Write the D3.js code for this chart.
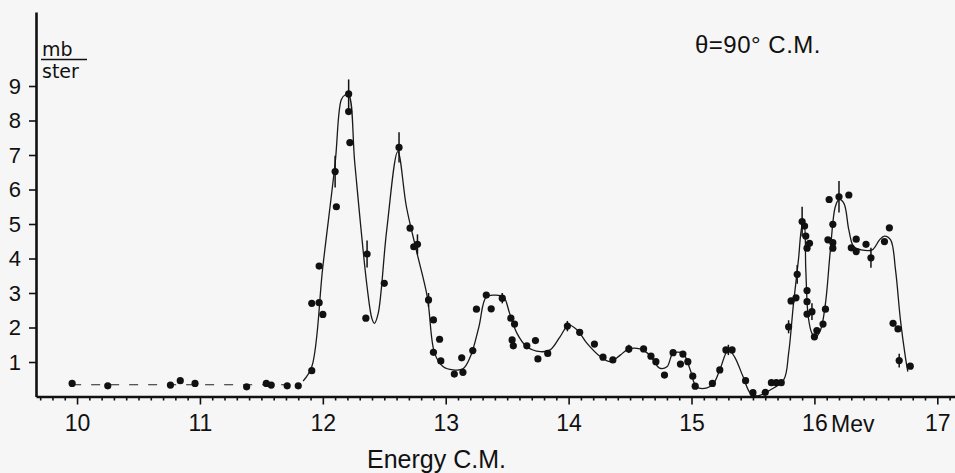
<!DOCTYPE html>
<meta charset="utf-8">
<style>
body { margin: 0; background: #f6f6f6; }
svg { display: block; background: #f6f6f6; }

.axis path.domain { stroke: #111; stroke-width: 2.6px; }
.axis line { stroke: #111; stroke-width: 1.6px; }
.axis text { font: 23px "Liberation Sans", sans-serif; fill: #111; }
.yaxis text { font-size: 22px; }

.fit { fill: none; stroke: #1a1a1a; stroke-width: 1.3px; }
.base { fill: none; stroke: #222; stroke-width: 1.2px; stroke-dasharray: 9,10; }
.dot { fill: #111; }
.err { stroke: #111; stroke-width: 1.5px; }
.lbl { font-family: "Liberation Sans", sans-serif; fill: #111; }
</style>
<body>

<script src="https://cdn.jsdelivr.net/npm/d3@7"></script>
<script>

// tick labels
var xTicks = [10, 11, 12, 13, 14, 15, 16, 17];
var yTicks = [1, 2, 3, 4, 5, 6, 7, 8, 9];

// measured points (energy C.M. in Mev, cross section in mb/ster)
var pointE = [9.96, 10.25, 10.76, 10.84, 10.96, 11.38, 11.54, 11.58, 11.71, 11.80,
  11.91, 11.91, 11.97, 12.00, 11.97, 12.11, 12.10, 12.21, 12.21, 12.22,
  12.36, 12.35, 12.50, 12.62, 12.71, 12.74, 12.77, 12.86, 12.90, 12.95,
  12.90, 12.96, 13.07, 13.14, 13.13, 13.22, 13.25, 13.33, 13.37, 13.46,
  13.53, 13.56, 13.54, 13.55, 13.66, 13.73, 13.75, 13.83, 13.99, 14.09,
  14.21, 14.28, 14.36, 14.49, 14.61, 14.67, 14.71, 14.78, 14.85, 14.93,
  14.91, 14.97, 15.01, 15.03, 15.17, 15.23, 15.28, 15.33, 15.44, 15.50,
  15.60, 15.65, 15.69, 15.73, 15.79, 15.81, 15.85, 15.86, 15.90, 15.92,
  15.93, 15.96, 15.94, 15.94, 15.94, 15.94, 15.98, 16.00, 16.02, 16.07,
  16.09, 16.11, 16.15, 16.15, 16.15, 16.12, 16.20, 16.28, 16.30, 16.34,
  16.34, 16.42, 16.46, 16.57, 16.61, 16.64, 16.68, 16.69, 16.78];
var pointSigma = [0.38, 0.31, 0.33, 0.46, 0.38, 0.28, 0.38, 0.33, 0.31, 0.31,
  0.75, 2.70, 2.72, 2.38, 3.78, 5.50, 6.52, 8.77, 8.26, 7.36,
  4.13, 2.27, 3.28, 7.22, 4.88, 4.34, 4.41, 2.80, 2.22, 1.66,
  1.28, 1.03, 0.65, 0.70, 1.12, 1.33, 2.53, 2.94, 2.54, 2.85,
  2.27, 2.10, 1.64, 1.47, 1.47, 1.62, 1.09, 1.25, 2.04, 1.86,
  1.52, 1.14, 1.06, 1.38, 1.38, 1.17, 1.01, 0.62, 1.27, 1.23,
  0.94, 1.01, 0.59, 0.30, 0.38, 0.77, 1.35, 1.35, 0.46, 0.11,
  0.12, 0.40, 0.40, 0.40, 2.02, 2.77, 2.86, 3.54, 5.07, 4.94,
  4.65, 4.44, 4.30, 3.07, 2.75, 2.39, 2.46, 1.73, 1.91, 2.10,
  2.53, 4.54, 4.46, 4.30, 4.99, 5.71, 5.79, 5.84, 4.31, 4.56,
  4.20, 4.41, 4.02, 4.49, 4.89, 2.12, 1.96, 1.04, 0.88];

// error bars
var errE     = [12.10, 12.21, 12.36, 12.62, 12.77, 12.86, 13.46, 13.99, 14.49, 15.30, 15.79, 15.86, 15.90, 15.98, 16.20, 16.46, 16.69];
var errSigma = [6.52, 8.77, 4.13, 7.22, 4.41, 2.80, 2.85, 2.04, 1.38, 1.35, 2.02, 3.54, 5.07, 2.46, 5.79, 4.02, 1.04];
var errHalf  = [0.46, 0.42, 0.39, 0.44, 0.29, 0.20, 0.15, 0.15, 0.12, 0.15, 0.19, 0.27, 0.43, 0.24, 0.46, 0.29, 0.20];

// drawn curve
var fitE = [11.84, 11.91, 12.00, 12.10, 12.15, 12.18, 12.21, 12.26, 12.36, 12.40, 12.42, 12.45,
  12.52, 12.61, 12.68, 12.76, 12.85, 12.91, 12.98, 13.06, 13.14, 13.20, 13.27, 13.33,
  13.40, 13.47, 13.52, 13.58, 13.66, 13.77, 13.85, 13.93, 14.00, 14.07, 14.15, 14.26,
  14.34, 14.42, 14.49, 14.58, 14.66, 14.74, 14.80, 14.85, 14.93, 14.99, 15.04, 15.12,
  15.18, 15.23, 15.30, 15.35, 15.42, 15.48, 15.54, 15.64, 15.75, 15.79, 15.83, 15.87,
  15.90, 15.915, 15.93, 15.95, 15.98, 16.01, 16.05, 16.09, 16.13, 16.17, 16.20, 16.24,
  16.28, 16.32, 16.38, 16.47, 16.53, 16.57, 16.62, 16.66, 16.70, 16.74, 16.76];
var fitSigma = [0.45, 0.86, 3.76, 6.76, 8.60, 8.74, 8.74, 6.76, 3.18, 2.25, 2.12, 2.40,
  4.83, 7.10, 5.50, 4.25, 2.89, 1.25, 0.86, 0.77, 0.80, 1.15, 2.02, 2.89,
  2.94, 2.89, 2.41, 1.83, 1.44, 1.30, 1.35, 1.73, 2.07, 1.93, 1.54, 1.15,
  1.01, 1.20, 1.38, 1.38, 1.20, 0.82, 0.86, 1.25, 1.25, 0.77, 0.28, 0.24,
  0.38, 0.77, 1.35, 1.15, 0.57, 0.09, 0.02, 0.19, 0.48, 1.25, 2.70, 3.96,
  4.95, 5.02, 3.67, 2.31, 1.83, 1.73, 1.93, 2.70, 4.25, 5.50, 5.71, 5.60,
  4.83, 4.34, 4.25, 4.25, 4.54, 4.65, 4.54, 3.67, 2.22, 1.15, 0.72];

// dashed background line below 12 Mev
var baseE = [9.96, 11.80];
var baseSigma = [0.34, 0.34];

// set the dimensions and margins of the diagram
var margin = {top: 12, right: 0, bottom: 76.5, left: 36},
    width = 955 - margin.left - margin.right,
    height = 473 - margin.top - margin.bottom;

var svg = d3.select("body").append("svg")
    .attr("width", 955)
    .attr("height", 473);
var g = svg.append("g")
    .attr("transform", "translate(" + margin.left + "," + margin.top + ")");

var x = d3.scaleLinear().domain([9.666, 17.144]).range([0, width]);
var y = d3.scaleLinear().domain([0, 11.145]).range([height, 0]);

// minor ticks every 0.1 Mev
var minorTicks = d3.range(97, 172).map(function(d) { return d / 10; })
    .filter(function(d) { return Math.round(d * 10) % 10 !== 0; });

g.append("g")
    .attr("class", "axis")
    .attr("transform", "translate(0," + height + ")")
    .call(d3.axisBottom(x).tickValues(minorTicks).tickSize(4).tickFormat(""))
    .select(".domain").remove();

g.append("g")
    .attr("class", "axis")
    .attr("transform", "translate(0," + height + ")")
    .call(d3.axisBottom(x).tickValues(xTicks).tickSize(8).tickSizeOuter(0)
        .tickPadding(10).tickFormat(d3.format("d")));

g.append("g")
    .attr("class", "axis yaxis")
    .call(d3.axisLeft(y).tickValues(yTicks).tickSize(7).tickSizeOuter(0)
        .tickPadding(8).tickFormat(d3.format("d")));

// dashed line and fitted curve
g.append("path")
    .datum(baseE.map(function(e, i) { return [e, baseSigma[i]]; }))
    .attr("class", "base")
    .attr("d", d3.line().x(function(d) { return x(d[0]); }).y(function(d) { return y(d[1]); }));

g.append("path")
    .datum(fitE.map(function(e, i) { return [e, fitSigma[i]]; }))
    .attr("class", "fit")
    .attr("d", d3.line()
        .curve(d3.curveCatmullRom.alpha(0.5))
        .x(function(d) { return x(d[0]); })
        .y(function(d) { return y(d[1]); }));

// error bars
g.selectAll(".err")
    .data(errE)
  .enter().append("line")
    .attr("class", "err")
    .attr("x1", function(d) { return x(d); })
    .attr("x2", function(d) { return x(d); })
    .attr("y1", function(d, i) { return y(errSigma[i] + errHalf[i]); })
    .attr("y2", function(d, i) { return y(errSigma[i] - errHalf[i]); });

// points
g.selectAll(".dot")
    .data(pointE)
  .enter().append("circle")
    .attr("class", "dot")
    .attr("r", 3.6)
    .attr("cx", function(d) { return x(d); })
    .attr("cy", function(d, i) { return y(pointSigma[i]); });

// unit label mb / ster
g.append("text").attr("class", "lbl")
    .attr("x", 6).attr("y", 44)
    .style("font-family", "DejaVu Sans").style("font-size", "19px")
    .text("mb");
g.append("line")
    .attr("x1", 5).attr("x2", 51).attr("y1", 47.5).attr("y2", 47.5)
    .attr("stroke", "#111").attr("stroke-width", 1.5);
g.append("text").attr("class", "lbl")
    .attr("x", 6).attr("y", 66)
    .style("font-family", "DejaVu Sans").style("font-size", "19px")
    .text("ster");

// unit after 16
g.append("text").attr("class", "lbl")
    .attr("x", 831 - margin.left).attr("y", height + 35)
    .style("font-size", "23px")
    .text("Mev");

// axis title
g.append("text").attr("class", "lbl")
    .attr("x", 367 - margin.left).attr("y", 468 - margin.top)
    .style("font-size", "25px")
    .text("Energy C.M.");

// angle note
g.append("text").attr("class", "lbl")
    .attr("x", 695 - margin.left).attr("y", 53 - margin.top)
    .style("font-size", "24px")
    .style("letter-spacing", "0.5px")
    .text("θ=90° C.M.");

</script>
</body>
